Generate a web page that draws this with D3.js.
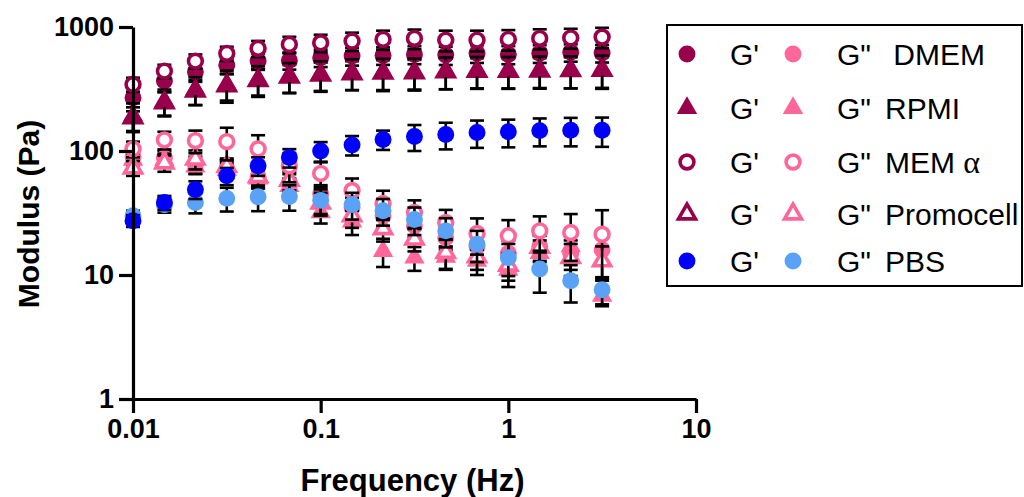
<!DOCTYPE html>
<html>
<head>
<meta charset="utf-8">
<script src="https://cdnjs.cloudflare.com/ajax/libs/d3/7.8.5/d3.min.js"></script>
<style>
  body { margin: 0; background: #fff; }
  text { font-family: "Liberation Sans", Arial, sans-serif; }
</style>
</head>
<body>
<div id="chart"></div>
<script>
// frequency sweep points (Hz)
var freq = [0.01, 0.0147, 0.0215, 0.0316, 0.0464, 0.0681, 0.1, 0.147, 0.215, 0.316, 0.464, 0.681, 1, 1.47, 2.15, 3.16];

var xTicks = [0.01, 0.1, 1, 10];
var xTickLabels = ["0.01", "0.1", "1", "10"];
var yTicks = [1, 10, 100, 1000];
var yTickLabels = ["1", "10", "100", "1000"];

// storage modulus G' (Pa) and error bars
var dmemG1 = [269, 367, 436, 491, 531, 538, 565, 583, 590, 601, 594, 613, 601, 613, 625, 617];
var dmemG1err = [60, 70, 75, 70, 80, 85, 90, 95, 95, 100, 100, 100, 100, 100, 100, 100];
var rpmiG1 = [192, 253, 314, 345, 378, 402, 415, 429, 429, 432, 441, 445, 445, 448, 450, 452];
var rpmiG1err = [50, 60, 80, 100, 105, 110, 115, 120, 125, 125, 127, 128, 128, 130, 130, 135];
var memG1 = [345, 441, 531, 613, 672, 724, 746, 770, 794, 808, 784, 784, 794, 808, 817, 830];
var memG1err = [45, 55, 70, 80, 100, 110, 120, 130, 140, 145, 150, 150, 150, 150, 150, 155];
var promoG1 = [185, 245, 305, 335, 370, 395, 410, 420, 425, 428, 435, 440, 440, 442, 445, 448];
var promoG1err = [40, 55, 70, 80, 90, 100, 105, 110, 115, 115, 120, 120, 120, 120, 125, 125];
var pbsG1 = [27.4, 38.4, 49, 63, 76, 88.5, 100, 112, 124, 131, 136, 141, 143, 146, 147, 147];
var pbsG1err = [3, 5, 8, 10, 13, 15, 18, 20, 22, 31, 33, 35, 36, 37, 38, 39];

// loss modulus G'' (Pa) and error bars
var dmemG2 = [90, 88, 78, 72, 62, 55, 45, 35, 30, 25, 20, 17, 15, 17, 15, 16];
var dmemG2err = [12, 12, 12, 12, 12, 10, 8, 7, 6, 5, 4, 4, 4, 4, 4, 4];
var rpmiG2 = [85, 85, 75, 70, 60, 52, 32, 27, 15.6, 13.8, 14, 13, 11, 15, 17, 6.8];
var rpmiG2err = [10, 10, 10, 10, 10, 8, 6, 6, 4, 3, 3, 3, 3, 4, 4, 1];
var memG2 = [104, 123, 121, 119, 104, 76, 66, 48, 37.8, 32, 26.5, 21.6, 20.7, 22.7, 22, 21.3];
var memG2err = [15, 20, 25, 35, 30, 20, 15, 12, 10, 8, 7, 7, 7, 7, 9, 12];
var promoG2 = [73, 80, 86, 75, 62, 58, 38, 30, 23.6, 19.5, 15.2, 14, 12, 16.7, 13.8, 13];
var promoG2err = [10, 12, 15, 12, 10, 10, 8, 6, 5, 4, 4, 3, 3, 4, 4, 4];
var pbsG2 = [30, 36.8, 38.4, 41.5, 42.7, 43, 40, 37, 33, 28, 22.7, 17.7, 13.8, 11.2, 9, 7.6];
var pbsG2err = [3, 5, 7, 9, 10, 10, 9, 9, 8, 7, 6, 5, 4, 4, 3, 2];

var legendNames = [" DMEM", "RPMI", "MEM ", "Promocell", "PBS"];

var maroon = "#99004c", pink = "#ff6699", blue = "#0000ff", lightBlue = "#5aa2f5";

// drawing order matters: later series sit on top
var series = [
    { vals: promoG1, err: promoG1err, color: maroon, shape: "triangle", open: true },
    { vals: dmemG2, err: dmemG2err, color: pink, shape: "circle", open: false },
    { vals: rpmiG2, err: rpmiG2err, color: pink, shape: "triangle", open: false },
    { vals: dmemG1, err: dmemG1err, color: maroon, shape: "circle", open: false },
    { vals: rpmiG1, err: rpmiG1err, color: maroon, shape: "triangle", open: false },
    { vals: memG1, err: memG1err, color: maroon, shape: "circle", open: true },
    { vals: promoG2, err: promoG2err, color: pink, shape: "triangle", open: true },
    { vals: memG2, err: memG2err, color: pink, shape: "circle", open: true },
    { vals: pbsG2, err: pbsG2err, color: lightBlue, shape: "circle", open: false },
    { vals: pbsG1, err: pbsG1err, color: blue, shape: "circle", open: false }
];

var legendRows = [
    { a: { color: maroon, shape: "circle", open: false }, b: { color: pink, shape: "circle", open: false } },
    { a: { color: maroon, shape: "triangle", open: false }, b: { color: pink, shape: "triangle", open: false } },
    { a: { color: maroon, shape: "circle", open: true }, b: { color: pink, shape: "circle", open: true } },
    { a: { color: maroon, shape: "triangle", open: true }, b: { color: pink, shape: "triangle", open: true } },
    { a: { color: blue, shape: "circle", open: false }, b: { color: lightBlue, shape: "circle", open: false } }
];

var margin = { top: 27, right: 328, bottom: 98, left: 133 },
    width = 1024 - margin.left - margin.right,
    height = 497 - margin.top - margin.bottom;

var root = d3.select("#chart")
    .append("svg")
    .attr("width", 1024)
    .attr("height", 497);

var svg = root.append("g")
    .attr("transform", "translate(" + margin.left + "," + margin.top + ")");

var x = d3.scaleLog().domain([0.01, 10]).range([0, width]);
var y = d3.scaleLog().domain([1, 1000]).range([height, 0]);

function symbolPath(s) {
    var type = s.shape == "circle" ? d3.symbolCircle : d3.symbolTriangle;
    var size;
    if (s.shape == "circle") size = s.open ? 150 : 225;
    else size = s.open ? 125 : 180;
    return d3.symbol().type(type).size(size)();
}

function styleSymbol(sel, s) {
    sel.attr("d", symbolPath(s))
        .attr("fill", s.open ? "#fff" : s.color)
        .attr("stroke", s.open ? s.color : "none")
        .attr("stroke-width", s.open ? 3.6 : 0);
}

// points with error bars, series by series
series.forEach(function (s) {
    var pts = freq.map(function (f, i) { return { f: f, v: s.vals[i], e: s.err[i] }; });
    var g = svg.append("g");

    var bars = g.selectAll(".eb").data(pts).enter().append("g")
        .attr("stroke", "#000")
        .attr("stroke-width", 2.6);
    bars.append("line")
        .attr("x1", d => x(d.f)).attr("x2", d => x(d.f))
        .attr("y1", d => y(d.v + d.e)).attr("y2", d => y(Math.max(d.v - d.e, 1.05)));
    bars.append("line")
        .attr("x1", d => x(d.f) - 7).attr("x2", d => x(d.f) + 7)
        .attr("y1", d => y(d.v + d.e)).attr("y2", d => y(d.v + d.e));
    bars.append("line")
        .attr("x1", d => x(d.f) - 7).attr("x2", d => x(d.f) + 7)
        .attr("y1", d => y(Math.max(d.v - d.e, 1.05))).attr("y2", d => y(Math.max(d.v - d.e, 1.05)));

    g.selectAll(".pt").data(pts).enter().append("path")
        .attr("transform", d => "translate(" + x(d.f) + "," + y(d.v) + ")")
        .call(styleSymbol, s);
});

// axes
var xAxis = svg.append("g")
    .attr("transform", "translate(0," + height + ")")
    .call(d3.axisBottom(x).tickValues(xTicks).tickFormat((d, i) => xTickLabels[i]).tickSize(14).tickSizeOuter(0).tickPadding(6));

var yAxis = svg.append("g")
    .call(d3.axisLeft(y).tickValues(yTicks).tickFormat((d, i) => yTickLabels[i]).tickSize(14).tickSizeOuter(0).tickPadding(5));

[xAxis, yAxis].forEach(function (ax) {
    ax.select(".domain").attr("stroke", "#000").attr("stroke-width", 3.2);
    ax.selectAll(".tick line").attr("stroke", "#000").attr("stroke-width", 3.2);
    ax.selectAll(".tick text")
        .attr("fill", "#000")
        .style("font-family", "'Liberation Sans', Arial, sans-serif")
        .style("font-weight", "bold")
        .style("font-size", "27px");
});

// axis titles
svg.append("text")
    .attr("x", width / 2 - 2)
    .attr("y", height + 92)
    .attr("text-anchor", "middle")
    .style("font-weight", "bold")
    .style("font-size", "31px")
    .text("Frequency (Hz)");

svg.append("text")
    .attr("transform", "rotate(-90)")
    .attr("x", -(height / 2) - 1)
    .attr("y", -94)
    .attr("text-anchor", "middle")
    .style("font-weight", "bold")
    .style("font-size", "30px")
    .text("Modulus (Pa)");

// legend
var legend = root.append("g").attr("transform", "translate(667,25)");
legend.append("rect")
    .attr("width", 355).attr("height", 261)
    .attr("fill", "none").attr("stroke", "#000").attr("stroke-width", 2);

var rowY = [29, 83, 137, 189, 236];
legendRows.forEach(function (r, i) {
    var row = legend.append("g").attr("transform", "translate(0," + rowY[i] + ")");
    row.append("path").attr("transform", "translate(20,0)").call(styleSymbol, r.a);
    row.append("path").attr("transform", "translate(126,0)").call(styleSymbol, r.b);
    row.append("text").attr("x", 63).attr("dy", "0.36em").style("font-size", "30px").text("G'");
    row.append("text").attr("x", 170).attr("dy", "0.36em").style("font-size", "30px").text("G\"");
    var name = row.append("text").attr("x", 218).attr("dy", "0.36em")
        .style("font-size", "30px").style("white-space", "pre").text(legendNames[i]);
    if (i == 2) {
        name.append("tspan").style("font-family", "'Liberation Serif', serif").style("font-size", "32px").text("\u03b1");
    }
});
</script>
</body>
</html>
